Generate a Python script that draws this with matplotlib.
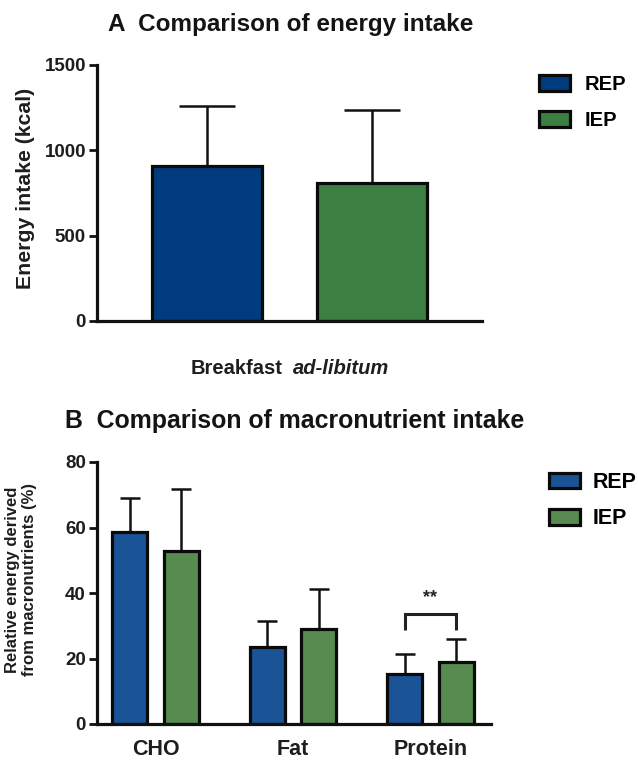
import matplotlib
matplotlib.use("Agg")
import matplotlib.pyplot as plt
from matplotlib.patches import Patch
import numpy as np

plt.rcParams['font.family'] = ['Liberation Sans', 'DejaVu Sans']

# ---- data ----
groups = ["REP", "IEP"]
energy_mean = [909, 806]
energy_err = [350, 428]
energy_ticks = [0, 500, 1000, 1500]

macro_cats = ["CHO", "Fat", "Protein"]
macro_rep = [58.5, 23.6, 15.2]
macro_rep_err = [10.5, 7.8, 6.1]
macro_iep = [52.8, 28.9, 18.8]
macro_iep_err = [19.1, 12.4, 7.3]
macro_ticks = [0, 20, 40, 60, 80]

colA = ["#003C7D", "#3B7F42"]
colB = ["#1A5496", "#578B4F"]
TXT = "#1e1e1e"

W, H = 638, 762
fig = plt.figure(figsize=(W / 100, H / 100), dpi=100)

def box(x0, y0, x1, y1):
    return [x0 / W, 1 - y1 / H, (x1 - x0) / W, (y1 - y0) / H]

def style(ax):
    for s in ["top", "right"]:
        ax.spines[s].set_visible(False)
    for s in ["left", "bottom"]:
        ax.spines[s].set_linewidth(2.3)
        ax.spines[s].set_color("#111111")
    ax.tick_params(axis="y", direction="out", length=6, width=2.0,
                   color="#111111", labelsize=13.5, pad=2)
    ax.tick_params(axis="x", length=0)
    for lab in ax.get_yticklabels():
        lab.set_fontweight("bold")
        lab.set_color(TXT)

# ---- Panel A ----
axA = fig.add_axes(box(97, 65, 482, 321))
xA = np.array([0, 1.5])
axA.bar(xA, energy_mean, width=1.0, color=colA, edgecolor="#0a0a0a",
        linewidth=2.3, zorder=2)
for x, m, e in zip(xA, energy_mean, energy_err):
    axA.errorbar(x, m, yerr=[[0], [e]], fmt="none", ecolor="#111111",
                 elinewidth=1.8, capsize=20.5, capthick=1.8, zorder=1)
axA.set_xlim(-1.0, 2.5)
axA.set_ylim(0, 1500)
axA.set_yticks(energy_ticks)
axA.set_xticks([])
style(axA)
axA.set_ylabel("Energy intake (kcal)", fontsize=15.3, fontweight="bold", color=TXT)
axA.yaxis.set_label_coords(-0.161, 0.516)
fig.text(283 / W, 1 - 369 / H, "Breakfast", ha="right", va="center",
         fontsize=14.5, fontweight="bold", color=TXT)
fig.text(293 / W, 1 - 369 / H, "ad-libitum", ha="left", va="center",
         fontsize=14.5, fontweight="bold", style="italic", color=TXT)
fig.text(291 / W, 1 - 24 / H, "A  Comparison of energy intake", ha="center",
         va="center", fontsize=17.5, fontweight="bold", color="#141414")
fig.legend(handles=[Patch(facecolor=c, edgecolor="#0a0a0a", linewidth=2.3, label=g)
                    for c, g in zip(colA, groups)],
           loc="upper left", bbox_to_anchor=(539 / W, 1 - 75 / H),
           frameon=False, prop={"weight": "bold", "size": 14.5},
           handlelength=1.54, handleheight=0.85, labelspacing=0.83,
           handletextpad=0.75, borderaxespad=0, borderpad=0)

# ---- Panel B ----
axB = fig.add_axes(box(97, 462, 491, 724))
xB = np.arange(len(macro_cats))
bw = 0.255
off = 0.187
axB.bar(xB - off, macro_rep, width=bw, color=colB[0], edgecolor="#0a0a0a",
        linewidth=2.3, zorder=2)
axB.bar(xB + off, macro_iep, width=bw, color=colB[1], edgecolor="#0a0a0a",
        linewidth=2.3, zorder=2)
axB.errorbar(xB - off, macro_rep, yerr=[np.zeros(3), macro_rep_err], fmt="none",
             ecolor="#111111", elinewidth=1.8, capsize=7, capthick=1.8, zorder=1)
axB.errorbar(xB + off, macro_iep, yerr=[np.zeros(3), macro_iep_err], fmt="none",
             ecolor="#111111", elinewidth=1.8, capsize=7, capthick=1.8, zorder=1)
axB.set_xlim(-0.425, 2.44)
axB.set_ylim(0, 80)
axB.set_yticks(macro_ticks)
axB.set_xticks(xB)
axB.set_xticklabels(macro_cats, fontsize=15.5, fontweight="bold", color=TXT)
style(axB)
axB.tick_params(axis="x", pad=11)
axB.set_ylabel("Relative energy derived\nfrom macronutrients (%)", fontsize=12,
               fontweight="bold", color=TXT, linespacing=1.15)
axB.yaxis.set_label_coords(-0.152, 0.55)

# significance bracket on Protein
sig_y, sig_low = 33.5, 28.7
xl, xr = xB[2] - off, xB[2] + off
axB.plot([xl, xl, xr, xr], [sig_low, sig_y, sig_y, sig_low], color="#222222",
         lw=2.2, solid_capstyle="butt", solid_joinstyle="miter")
axB.text(xB[2], sig_y + 5.0, "**", ha="center", va="center", fontsize=13,
         fontweight="bold", color="#222222")

fig.text(295 / W, 1 - 421 / H, "B  Comparison of macronutrient intake", ha="center",
         va="center", fontsize=17.9, fontweight="bold", color="#141414")
fig.legend(handles=[Patch(facecolor=c, edgecolor="#0a0a0a", linewidth=2.3, label=g)
                    for c, g in zip(colB, groups)],
           loc="upper left", bbox_to_anchor=(549 / W, 1 - 472 / H),
           frameon=False, prop={"weight": "bold", "size": 15.5},
           handlelength=1.44, handleheight=0.74, labelspacing=0.71,
           handletextpad=0.6, borderaxespad=0, borderpad=0)

fig.savefig("out.png", dpi=100)
